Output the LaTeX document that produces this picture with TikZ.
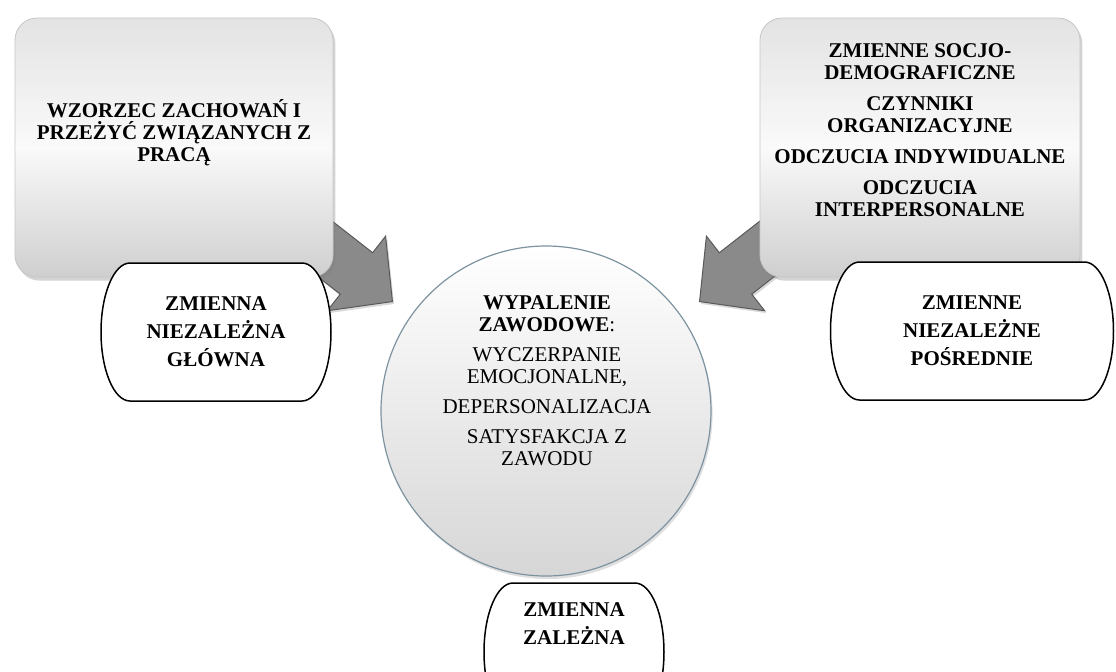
\documentclass[tikz,border=0pt]{standalone}
\usepackage{fontspec}
\setmainfont{Liberation Serif}
\usetikzlibrary{calc,shapes.arrows,shadows}

\definecolor{obwodka}{RGB}{125,148,160}

\tikzset{
  blok/.style={rounded corners=11pt, minimum width=#1, minimum height=129.5pt, inner sep=0pt,
    draw=gray!45, line width=0.4pt,
    top color=gray!22, bottom color=gray!38, middle color=gray!4,
    drop shadow={shadow xshift=1.2pt, shadow yshift=-1.8pt, opacity=0.35}},
  bloktekst/.style={align=center, inner sep=0pt, font=\fontsize{10.5}{11}\selectfont\bfseries},
  strzalka/.style={single arrow, single arrow head extend=10.5pt, single arrow tip angle=92,
    inner xsep=0pt, inner ysep=12.9pt, minimum height=57.5pt,
    fill=black!46, draw=black!65, line width=0.5pt,
    drop shadow={shadow xshift=0.8pt, shadow yshift=-1.2pt, opacity=0.3}},
  kolo/.style={circle, minimum size=165pt, inner sep=0pt, draw=obwodka, line width=0.6pt,
    top color=white, bottom color=gray!32,
    drop shadow={shadow xshift=0.8pt, shadow yshift=-1.5pt, opacity=0.25}},
  kolotekst/.style={align=center, inner sep=0pt, font=\fontsize{10.5}{11}\selectfont},
  etykieta/.style={minimum width=#1, minimum height=70pt, inner sep=0pt, align=center,
    font=\fontsize{10.5}{14}\selectfont\bfseries,
    path picture={
      \filldraw[fill=white, draw=black, line width=0.75pt]
        let \p1=(path picture bounding box.north west), \p2=(path picture bounding box.south east),
            \n1={(\y1-\y2)/2-0.5pt} in
        (\x1+15pt,\y1-0.5pt) -- (\x2-15pt,\y1-0.5pt)
        arc[start angle=90, end angle=-90, x radius=14.5pt, y radius=\n1]
        -- (\x1+15pt,\y2+0.5pt)
        arc[start angle=270, end angle=90, x radius=14.5pt, y radius=\n1] -- cycle;
    }}
}

\begin{document}
\begin{tikzpicture}[x=0.5pt, y=-0.5pt]

	\useasboundingbox (0,0) rectangle (1116,671);

	% strzalki
	\node[strzalka, rotate=-38, anchor=tip] (strzalkaL) at (393,302) {};
	\node[strzalka, rotate=-142, anchor=tip] (strzalkaP) at (699,302) {};

	% bloki
	\node[blok=159pt] (wzorzec) at (174,147.5) {};
	\node[bloktekst] (wzorzecTxt) at (174,133) {WZORZEC ZACHOWAŃ I\\PRZEŻYĆ ZWIĄZANYCH Z\\PRACĄ};

	\node[blok=160pt] (zmienne) at (920,147.5) {};
	\node[bloktekst] (zmienneTxt) at (920,130.5) {ZMIENNE SOCJO-\\DEMOGRAFICZNE\\[4.5pt]CZYNNIKI\\ORGANIZACYJNE\\[4.5pt]ODCZUCIA INDYWIDUALNE\\[4.5pt]ODCZUCIA\\INTERPERSONALNE};

	% kolo
	\node[kolo] (wypalenie) at (546,411) {};
	\node[kolotekst] (wypalenieTxt) at (547,381) {\textbf{WYPALENIE}\\\textbf{ZAWODOWE}:\\[4pt]WYCZERPANIE\\EMOCJONALNE,\\[4pt]DEPERSONALIZACJA\\[4pt]SATYSFAKCJA Z\\ZAWODU};

	% etykiety
	\node[etykieta=116pt] (zmGlowna) at (216,332) {ZMIENNA\\NIEZALEŻNA\\GŁÓWNA};
	\node[etykieta=142.5pt] (zmPosrednie) at (972,331) {ZMIENNE\\NIEZALEŻNE\\POŚREDNIE};
	\node[etykieta=91pt, text depth=28pt] (zmZalezna) at (574,652) {ZMIENNA\\ZALEŻNA};

\end{tikzpicture}
\end{document}
